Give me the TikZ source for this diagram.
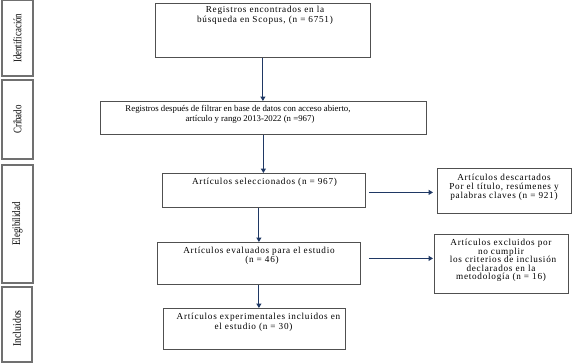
\documentclass[tikz,border=0pt]{standalone}
\usepackage{fontspec}
\setmainfont{Liberation Serif}
\newfontfamily\spc[LetterSpace=8]{Liberation Serif}
\usetikzlibrary{arrows.meta,calc}
\definecolor{navy}{HTML}{1F3864}
\definecolor{bord}{HTML}{505050}
\definecolor{lbord}{HTML}{707070}
\definecolor{ink}{HTML}{000000}
\begin{document}
\begin{tikzpicture}[x=1pt,y=-1pt,
  box/.style={draw=bord,line width=0.8pt,inner sep=0pt,anchor=north west},
  lbox/.style={draw=lbord,line width=1.2pt,inner sep=0pt,rotate=90,text=ink,
    font=\fontsize{11.5}{13}\selectfont},
  txt/.style={inner sep=0pt,anchor=north,align=center,text=ink},
  arr/.style={draw=navy,line width=1.1pt,-{Triangle[length=4.5pt,width=5pt]}},
]
\useasboundingbox (0,0) rectangle (582,364);

% phase labels
\node[lbox,minimum width=75.5pt,minimum height=31pt] (L1) at (17.5,38.2) {\scalebox{0.77}[1]{Identificación}};
\node[lbox,minimum width=79pt,minimum height=31pt] (L2) at (17.5,119.5) {\scalebox{0.77}[1]{Cribado}};
\node[lbox,minimum width=118pt,minimum height=31pt] (L3) at (17.5,224) {\scalebox{0.77}[1]{Elegibilidad}};
\node[lbox,minimum width=75pt,minimum height=30pt] (L4) at (17,324.5) {\scalebox{0.85}[1]{Incluidos}\hspace*{8pt}};

% boxes
\node[box,minimum width=215pt,minimum height=54pt] (b1) at (155,3) {};
\node[box,minimum width=326pt,minimum height=33pt] (b2) at (100,101) {};
\node[box,minimum width=203pt,minimum height=34pt] (b3) at (162,173) {};
\node[box,minimum width=203pt,minimum height=42pt] (b4) at (157,242) {};
\node[box,minimum width=182pt,minimum height=41pt] (b5) at (163,308) {};
\node[box,minimum width=134pt,minimum height=45pt] (s1) at (437,168) {};
\node[box,minimum width=134pt,minimum height=59pt] (s2) at (434,234) {};

% texts
\node[txt,font=\spc\fontsize{9.2}{10.5}\selectfont] (t1) at (265,5.8)
  {Registros encontrados en la\\búsqueda en Scopus, (n = 6751)};
\node[txt,font=\fontsize{8.8}{10.5}\selectfont] (t2) at (238,105)
  {Registros después de filtrar en base de datos con acceso abierto,\\\hspace*{24pt}artículo y rango 2013-2022 (n =967)};
\node[txt,font=\spc\fontsize{9.2}{10}\selectfont] (t3) at (264.5,178)
  {Artículos seleccionados (n = 967)};
\node[txt,font=\spc\fontsize{9.2}{8.5}\selectfont] (t4) at (259,247)
  {Artículos evaluados para el estudio\\\hspace*{6pt}(n = 46)};
\node[txt,font=\spc\fontsize{9.2}{9.5}\selectfont] (t5) at (258.5,313)
  {Artículos experimentales incluidos en\\el estudio (n = 30)\hspace*{10pt}};
\node[txt,font=\spc\fontsize{9.2}{9}\selectfont] (t6) at (504,174)
  {Artículos descartados\\Por el título, resúmenes y\\palabras claves (n = 921)};
\node[txt,font=\spc\fontsize{9.2}{8.6}\selectfont] (t7) at (501,239)
  {Artículos excluidos por\\no cumplir\\\hspace*{4pt}los criterios de inclusión\\declarados en la\\metodología (n = 16)};

% connectors
\draw[arr] (b1.south) -- (b1.south |- b2.north);
\draw[arr] (b2.south) -- (b2.south |- b3.north);
\draw[arr] (b4.north |- b3.south) -- (b4.north);
\draw[arr] (b4.south) -- (b4.south |- b5.north);
\coordinate (a3) at ([yshift=-2pt]b3.east);
\coordinate (a4) at ([yshift=5pt]b4.east);
\draw[arr,shorten <=3pt,shorten >=4pt] (a3) -- (a3 -| s1.west);
\draw[arr,shorten <=8pt,shorten >=1pt] (a4) -- (a4 -| s2.west);
\end{tikzpicture}
\end{document}
